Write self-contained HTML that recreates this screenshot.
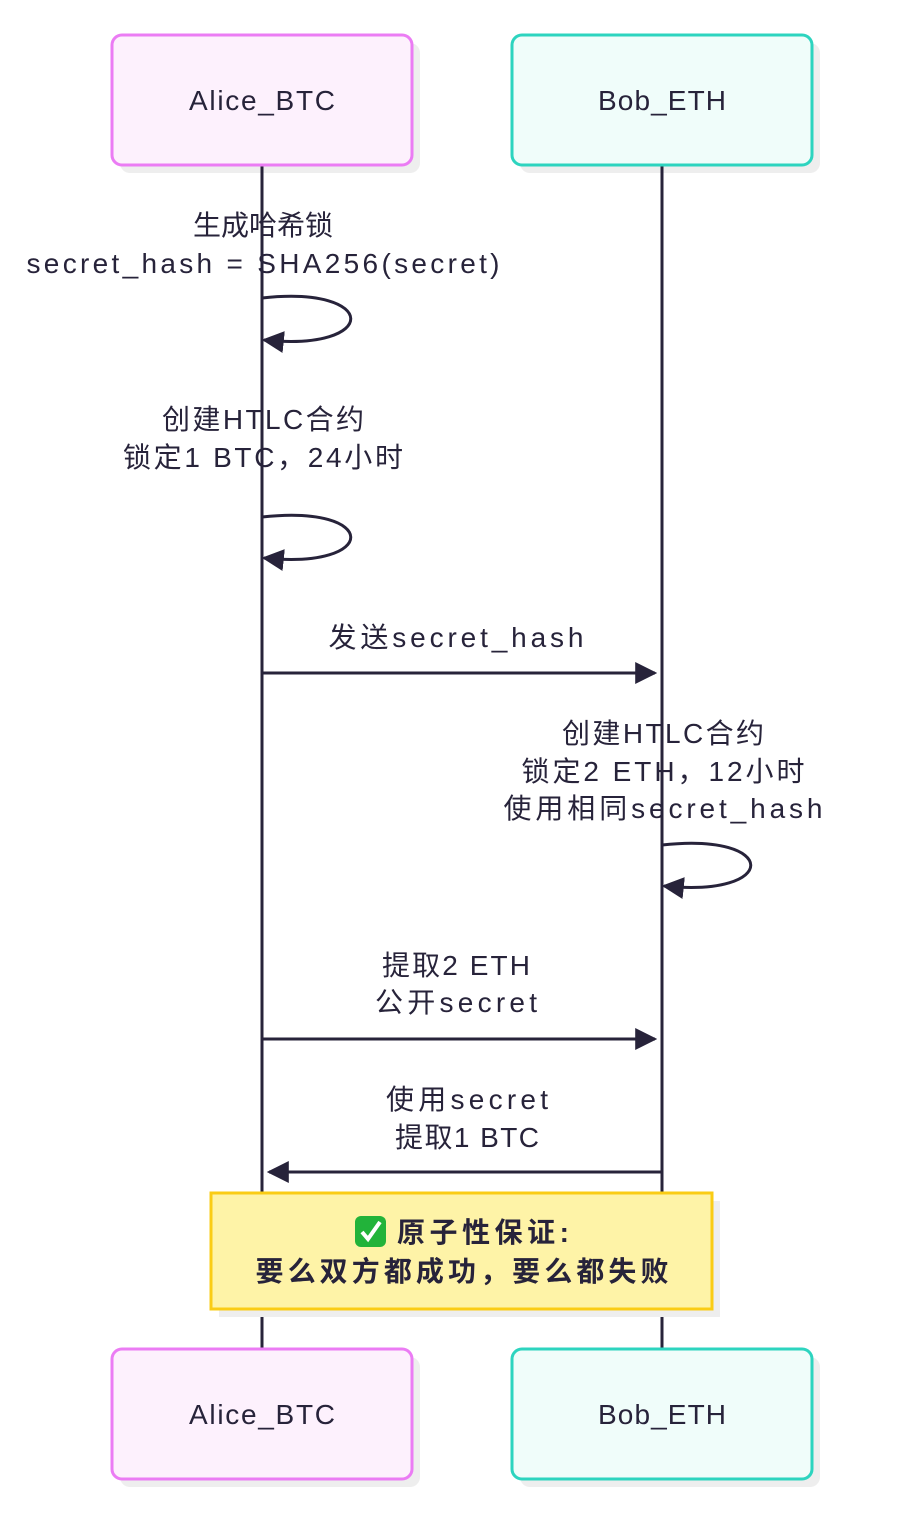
<!DOCTYPE html>
<html><head><meta charset="utf-8"><style>
html,body{margin:0;padding:0;background:#fff;}
svg{display:block;}
text{font-family:"Liberation Sans","Noto Sans CJK SC",sans-serif;font-size:28px;fill:#27233A;}
</style></head><body>
<svg width="912" height="1528" viewBox="0 0 912 1528" xmlns="http://www.w3.org/2000/svg">
<defs>
<marker id="ah" markerWidth="12" markerHeight="12" refX="10" refY="6" orient="auto" markerUnits="userSpaceOnUse">
<path d="M0,0 L12,6 L0,12 z" fill="#27233A"/>
</marker>
<marker id="ah2" viewBox="0 0 20 20" markerWidth="22" markerHeight="22" refX="18" refY="10" orient="auto" markerUnits="userSpaceOnUse">
<path d="M0,0 L20,10 L0,20 z" fill="#27233A"/>
</marker>
</defs>
<!-- shadows -->
<rect x="120" y="43" width="300" height="130" rx="10" fill="#eeeeee"/>
<rect x="520" y="43" width="300" height="130" rx="10" fill="#eeeeee"/>
<rect x="120" y="1357" width="300" height="130" rx="10" fill="#eeeeee"/>
<rect x="520" y="1357" width="300" height="130" rx="10" fill="#eeeeee"/>
<!-- lifelines -->
<line x1="262" y1="165" x2="262" y2="1349" stroke="#27233A" stroke-width="3"/>
<line x1="662" y1="165" x2="662" y2="1349" stroke="#27233A" stroke-width="3"/>
<!-- actors -->
<rect x="112" y="35" width="300" height="130" rx="10" fill="#FDF1FD" stroke="#EB7CF4" stroke-width="3"/>
<rect x="512" y="35" width="300" height="130" rx="10" fill="#F0FDFA" stroke="#2DD4BF" stroke-width="3"/>
<rect x="112" y="1349" width="300" height="130" rx="10" fill="#FDF1FD" stroke="#EB7CF4" stroke-width="3"/>
<rect x="512" y="1349" width="300" height="130" rx="10" fill="#F0FDFA" stroke="#2DD4BF" stroke-width="3"/>
<text x="262" y="110" text-anchor="middle" textLength="146">Alice_BTC</text>
<text x="662" y="110" text-anchor="middle" textLength="128">Bob_ETH</text>
<text x="262" y="1424" text-anchor="middle" textLength="146">Alice_BTC</text>
<text x="662" y="1424" text-anchor="middle" textLength="128">Bob_ETH</text>

<!-- msg 1 -->
<text x="263" y="235" text-anchor="middle">生成哈希锁</text>
<text x="263" y="273" text-anchor="middle" textLength="473">secret_hash = SHA256(secret)</text>
<path d="M262,298 C380,285 380,352 264,340" fill="none" stroke="#27233A" stroke-width="3" marker-end="url(#ah2)"/>

<!-- msg 2 -->
<text x="263" y="429" text-anchor="middle" textLength="202">创建HTLC合约</text>
<text x="263" y="467" text-anchor="middle" textLength="280">锁定1 BTC，24小时</text>
<path d="M262,517 C380,504 380,570 264,558" fill="none" stroke="#27233A" stroke-width="3" marker-end="url(#ah2)"/>

<!-- msg 3 -->
<text x="456" y="647" text-anchor="middle" textLength="255">发送secret_hash</text>
<line x1="262" y1="673" x2="655" y2="673" stroke="#27233A" stroke-width="3" marker-end="url(#ah2)"/>

<!-- msg 4 -->
<text x="663" y="743" text-anchor="middle" textLength="202">创建HTLC合约</text>
<text x="663" y="781" text-anchor="middle" textLength="283">锁定2 ETH，12小时</text>
<text x="663" y="818" text-anchor="middle" textLength="319">使用相同secret_hash</text>
<path d="M662,845 C780,832 780,898 664,886" fill="none" stroke="#27233A" stroke-width="3" marker-end="url(#ah2)"/>

<!-- msg 5 -->
<text x="456" y="975" text-anchor="middle" textLength="148">提取2 ETH</text>
<text x="456" y="1012" text-anchor="middle" textLength="162">公开secret</text>
<line x1="262" y1="1039" x2="655" y2="1039" stroke="#27233A" stroke-width="3" marker-end="url(#ah2)"/>

<!-- msg 6 -->
<text x="467" y="1109" text-anchor="middle" textLength="162">使用secret</text>
<text x="467" y="1147" text-anchor="middle" textLength="144">提取1 BTC</text>
<line x1="662" y1="1172" x2="269" y2="1172" stroke="#27233A" stroke-width="3" marker-end="url(#ah2)"/>

<!-- note -->
<rect x="219" y="1201" width="501" height="116" fill="#eeeeee"/>
<rect x="211" y="1193" width="501" height="116" fill="#FEF3A7" stroke="#FACC15" stroke-width="3"/>
<rect x="355" y="1216" width="31" height="31" rx="6" fill="#22B33A"/>
<path d="M362,1232 L368,1239 L380,1222" fill="none" stroke="#fff" stroke-width="4"/>
<text x="397" y="1242" font-weight="bold" textLength="172">原子性保证:</text>
<text x="462" y="1281" text-anchor="middle" font-weight="bold" textLength="413">要么双方都成功，要么都失败</text>
</svg>
</body></html>
